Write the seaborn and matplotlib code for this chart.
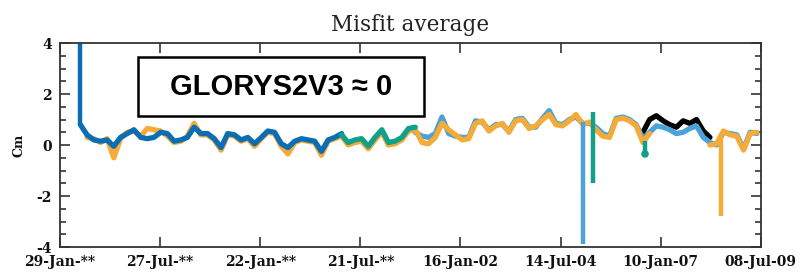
import numpy as np
import pandas as pd
import matplotlib
matplotlib.use("Agg")
import matplotlib.pyplot as plt
import matplotlib.patches as mpatches
from matplotlib.ticker import MultipleLocator
import seaborn as sns

# Time grid: one value every two months
grid = pd.date_range("1992-08-01", periods=102, freq="2MS")

# Series values (cm), each starting at a grid index
dark_blue_start = 0
dark_blue = [0.8, 0.4, 0.2, 0.15, 0.2, -0.05, 0.3, 0.45, 0.6, 0.3,
             0.25, 0.3, 0.5, 0.45, 0.15, 0.2, 0.3, 0.7, 0.45, 0.45,
             0.25, -0.1, 0.45, 0.4, 0.2, 0.3, 0.05, 0.3, 0.55, 0.5,
             0.05, -0.1, 0.15, 0.25, 0.2, 0.15, -0.25, 0.2, 0.3, 0.45]

orange_a_start = 1
orange_a = [0.3, 0.25, 0.1, 0.25, -0.5, 0.25, 0.5, 0.55, 0.35, 0.65,
            0.6, 0.55, 0.35, 0.1, 0.15, 0.35, 0.85, 0.4, 0.4, 0.2,
            -0.2, 0.4, 0.35, 0.15, 0.25, -0.05, 0.25, 0.5, 0.45, -0.05,
            -0.35, 0.1, 0.2, 0.15, 0.1, -0.4, 0.15, 0.25,
            0.35, 0.0, 0.1, 0.15, -0.15, 0.2, 0.5, 0.0, 0.05, 0.2,
            0.55, 0.6, 0.1, 0.05, 0.3, 0.85, 0.6, 0.4, 0.2, 0.25,
            0.85, 0.95, 0.55, 0.75, 0.85, 0.5, 0.95, 1.0, 0.65, 0.75,
            1.0, 1.2, 0.8, 0.75, 0.95, 1.2, 0.8, 0.9, 0.6, 0.35,
            0.3, 1.0, 1.05, 0.95, 0.75, 0.1, 0.45]

orange_b_start = 94
orange_b = [0.0, 0.05, 0.55, 0.4, 0.35, -0.2, 0.45, 0.5]

teal_start = 39
teal = [0.4, 0.1, 0.2, 0.25, -0.05, 0.3, 0.6, 0.1, 0.15, 0.3, 0.65, 0.7]

light_blue_start = 50
light_blue = [0.5, 0.35, 0.3, 0.45, 1.1, 0.45, 0.35, 0.3, 0.3, 0.95,
              0.9, 0.6, 0.8, 0.8, 0.55, 1.0, 1.05, 0.7, 0.7, 1.05,
              1.35, 0.85, 0.8, 1.0, 1.1, 0.85, 0.85, 0.7, 0.45, 0.35,
              1.05, 1.1, 1.0, 0.8, 0.25, 0.5, 0.75, 0.7, 0.6, 0.45,
              0.5, 0.65, 0.75, 0.3, 0.1, 0.0, 0.5, 0.45, 0.4, -0.15,
              0.5, 0.45]

black_start = 84
black = [0.5, 1.0, 1.15, 0.95, 0.8, 0.7, 0.95, 0.85, 1.0, 0.55, 0.3]

# Single vertical excursions
spike_dates = pd.to_datetime(["1992-08-01", "2005-02-01", "2005-05-03",
                              "2006-08-20", "2008-07-13"])
spike_tops = [4.0, 0.9, 1.3, 0.15, 0.3]
spike_bottoms = [0.8, -3.9, -1.5, -0.3, -2.8]
spike_keys = ["dark_blue", "light_blue", "teal", "teal", "orange"]
teal_dot_date = pd.to_datetime(["2006-08-20"])
teal_dot_value = [-0.35]

tick_dates = pd.to_datetime(["1992-01-29", "1994-07-27", "1997-01-22", "1999-07-21",
                             "2002-01-16", "2004-07-14", "2007-01-10", "2009-07-08"])
tick_labels = ["29-Jan-**", "27-Jul-**", "22-Jan-**", "21-Jul-**",
               "16-Jan-02", "14-Jul-04", "10-Jan-07", "08-Jul-09"]

colors = {
    "dark_blue": "#0b6db4",
    "orange": "#f5ab38",
    "teal": "#12a08a",
    "light_blue": "#4ba2d9",
    "black": "#000000",
}

sns.set_style("ticks")

fig = plt.figure(figsize=(8.01, 2.76), dpi=100)
ax = fig.add_axes([0.0749, 0.105, 0.875, 0.739])

# draw order matters for what sits on top
layers = [
    ("black", black_start, black),
    ("light_blue", light_blue_start, light_blue),
    ("orange", orange_a_start, orange_a),
    ("dark_blue", dark_blue_start, dark_blue),
    ("teal", teal_start, teal),
    ("orange", orange_b_start, orange_b),
]
for key, start, vals in layers:
    sns.lineplot(x=grid[start:start + len(vals)], y=vals, ax=ax,
                 color=colors[key], linewidth=3.8, estimator=None)

ax.vlines(spike_dates, spike_bottoms, spike_tops,
          colors=[colors[k] for k in spike_keys], linewidth=3.2)
sns.scatterplot(x=teal_dot_date, y=teal_dot_value, ax=ax, color=colors["teal"],
                s=30, edgecolor="none")

ax.set_xlim(tick_dates[0], tick_dates[-1])
ax.set_ylim(-4, 4)

ax.set_xticks(tick_dates, tick_labels)
ax.set_yticks([-4, -2, 0, 2, 4], ["-4", "-2", "0", "2", "4"])
ax.yaxis.set_minor_locator(MultipleLocator(0.5))
ax.tick_params(axis="both", which="major", direction="in", length=7, width=1.2,
               color="#333333", top=True, right=True, pad=6)
ax.tick_params(axis="y", which="minor", direction="in", length=4, width=1.2,
               color="#333333", right=True, left=True)
ax.tick_params(axis="x", which="minor", bottom=False, top=False)
for lab in ax.get_xticklabels() + ax.get_yticklabels():
    lab.set_family("DejaVu Serif")
    lab.set_fontweight("bold")
    lab.set_fontsize(10)
    lab.set_color("#111111")
for sp in ax.spines.values():
    sp.set_linewidth(1.3)
    sp.set_color("#333333")

ax.set_xlabel("")
ax.set_ylabel("Cm", family="DejaVu Serif", fontsize=9, fontweight="bold",
              color="#111111", labelpad=8)
ax.set_title("Misfit average", family="DejaVu Serif", fontsize=15.5,
             color="#222222", pad=9)

# annotation box
ax.add_patch(mpatches.Rectangle((0.111, 0.642), 0.408, 0.289,
                                transform=ax.transAxes, fill=True,
                                facecolor="white", edgecolor="black",
                                linewidth=1.8, zorder=5))
ax.text(0.315, 0.784, "GLORYS2V3 \u2248 0", transform=ax.transAxes,
        ha="center", va="center", fontsize=21, fontweight="bold",
        color="black", family=["Liberation Sans", "DejaVu Sans"], zorder=6)

fig.savefig("out.png", dpi=100)
